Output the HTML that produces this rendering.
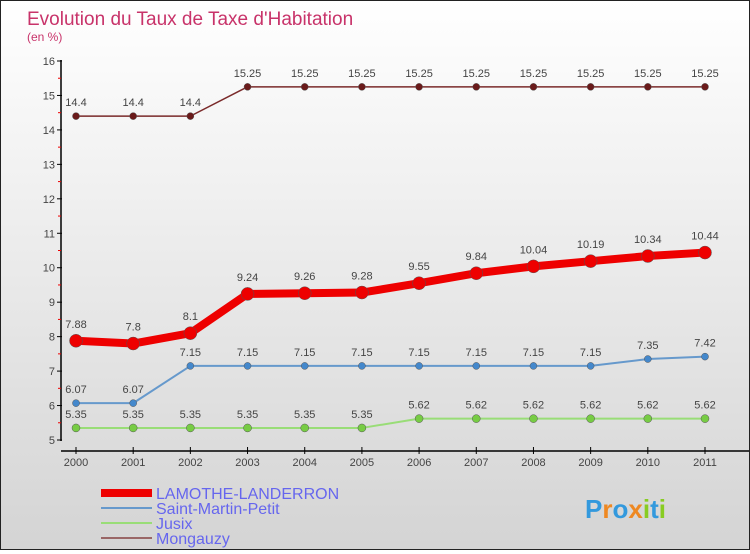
<!DOCTYPE html>
<html><head><meta charset="utf-8"><style>
html,body{margin:0;padding:0;}
body{width:750px;height:550px;overflow:hidden;font-family:"Liberation Sans",sans-serif;}
#wrap{position:relative;width:748px;height:548px;border:1px solid #222;background:linear-gradient(#ffffff,#d4d4d4);}
</style></head><body>
<div id="wrap">
<svg id="chart" width="748" height="548"></svg>
</div>
<script>
const years=[2000,2001,2002,2003,2004,2005,2006,2007,2008,2009,2010,2011];
const lamothe=[7.88,7.8,8.1,9.24,9.26,9.28,9.55,9.84,10.04,10.19,10.34,10.44];
const stmartin=[6.07,6.07,7.15,7.15,7.15,7.15,7.15,7.15,7.15,7.15,7.35,7.42];
const jusix=[5.35,5.35,5.35,5.35,5.35,5.35,5.62,5.62,5.62,5.62,5.62,5.62];
const mongauzy=[14.4,14.4,14.4,15.25,15.25,15.25,15.25,15.25,15.25,15.25,15.25,15.25];
const yTicks=[5,6,7,8,9,10,11,12,13,14,15,16];
const seriesNames=["LAMOTHE-LANDERRON","Saint-Martin-Petit","Jusix","Mongauzy"];

const NS="http://www.w3.org/2000/svg";
const svg=document.getElementById('chart');
function X(i){return 75+i*(704-75)/(years.length-1);}
function Y(v){return 439-(v-5)*(439-60)/11;}
function mk(tag,attrs,parent){const e=document.createElementNS(NS,tag);for(const k in attrs)e.setAttribute(k,attrs[k]);(parent||svg).appendChild(e);return e;}
function txt(x,y,s,size,fill,anchor,name){const t=mk('text',{x:x,y:y,'font-size':size,fill:fill,'text-anchor':anchor||'middle','font-family':'"Liberation Sans",sans-serif'});t.textContent=s;


return t;}

let t=txt(26,24,"Evolution du Taux de Taxe d'Habitation",19,'#c8336a','start','chart-title');
t=txt(26,40,"(en %)",12,'#c8336a','start','y-axis-unit');

// axes
let a=mk('line',{x1:60,y1:59,x2:60,y2:440,stroke:'#000','stroke-width':1.5});


a=mk('line',{x1:60,y1:450,x2:748,y2:450,stroke:'#000','stroke-width':1.5});


yTicks.forEach((v,i)=>{
  const tk=mk('line',{x1:56,y1:Y(v),x2:61,y2:Y(v),stroke:'#000'});
  
  
  txt(54,Y(v)+4,String(v),11,'#444','end','y-tick-label');
  if(i<yTicks.length-1){const m=mk('line',{x1:57,y1:Y(v+0.5),x2:60,y2:Y(v+0.5),stroke:'#e00'});
  
  }
});
years.forEach((yr,i)=>{
  const tk=mk('line',{x1:X(i),y1:446,x2:X(i),y2:453,stroke:'#000'});
  
  
  txt(X(i),465,String(yr),11,'#444','middle','x-tick-label');
});

function series(vals,color,w,r,dot,name,labelOffset){
  const g=mk('g',{});
  
  
  const pts=vals.map((v,i)=>X(i)+','+Y(v)).join(' ');
  const l=mk('polyline',{points:pts,fill:'none',stroke:color,'stroke-width':w,'stroke-linejoin':'round'},g);
  
  
  vals.forEach((v,i)=>{
    const c=mk('circle',{cx:X(i),cy:Y(v),r:r,fill:dot,stroke:'#555','stroke-width':0.5},g);
    
    
    const lt=txt(X(i),Y(v)-labelOffset,String(v),11,'#444','middle',name+'-value-label');
    g.appendChild(lt);
  });
}
series(mongauzy,'#7a2a2a',1.5,3.5,'#6a1a1a','mongauzy',10);
series(jusix,'#99dd77',2,4,'#77cc44','jusix',10);
series(stmartin,'#6699cc',2,3.5,'#4488cc','saint-martin-petit',10);
series(lamothe,'#ee0000',8,6.5,'#ee0000','lamothe-landerron',13);

// legend
const leg=[['#ee0000',8],['#6699cc',2],['#99dd77',2],['#996666',2]];
leg.forEach((s,i)=>{
  const y=492+i*15;
  const l=mk('line',{x1:100,y1:y,x2:151,y2:y,stroke:s[0],'stroke-width':s[1]});
  
  
  txt(155,y+6,seriesNames[i],16,'#6666ee','start','legend-entry');
});
// logo
const lg=mk('text',{x:584,y:517,'font-size':26,'font-weight':'bold','font-family':'"Liberation Sans",sans-serif'});


[['P','#3399dd'],['r','#ee8822'],['o','#3399dd'],['x','#ee8822'],['i','#88cc22'],['t','#3399dd'],['i','#88cc22']].forEach(p=>{const s=mk('tspan',{fill:p[1]},lg);s.textContent=p[0];});
</script>
</body></html>
